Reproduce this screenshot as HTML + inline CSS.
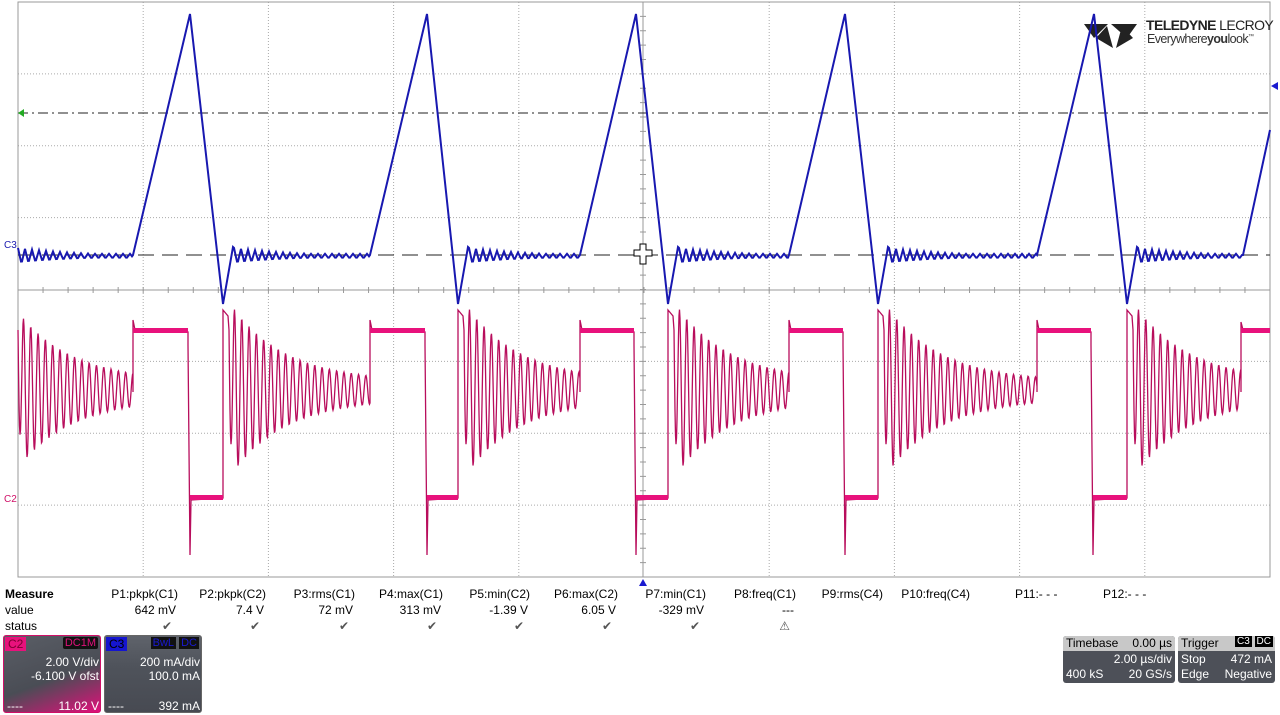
<!DOCTYPE html>
<html><head><meta charset="utf-8"><style>
body{margin:0;width:1280px;height:715px;background:#fff;overflow:hidden;font-family:"Liberation Sans",sans-serif;position:relative}
.t{position:absolute;font-size:12px;color:#000;white-space:nowrap}
.r{text-align:right}
.box{position:absolute;border-radius:3px;color:#fff;font-size:12px}
</style></head><body>
<svg id="s" width="1280" height="715" style="position:absolute;left:0;top:0">
<g id="grid"></g>
<g id="wave"></g>
</svg>
<div class="t" style="left:5px;top:587px;font-weight:bold">Measure</div>
<div class="t" style="left:5px;top:603px">value</div>
<div class="t" style="left:5px;top:619px">status</div>
<div id="meas"></div>
<div class="box" style="left:3px;top:635px;width:98px;height:78px;background:linear-gradient(160deg,#5a5e66 0%,#4a4d55 55%,#e0107a 100%);border:1px solid #d01068;box-sizing:border-box">
 <div style="position:absolute;left:1px;top:1px;background:#e8127c;color:#7a0030;padding:0 3px;font-size:12px">C2</div>
 <div style="position:absolute;right:2px;top:1px;background:#111;color:#e0107a;padding:0 2px;border-radius:2px;font-size:11px">DC1M</div>
 <div style="position:absolute;right:1px;top:19px">2.00 V/div</div>
 <div style="position:absolute;right:1px;top:33px">-6.100 V ofst</div>
 <div style="position:absolute;left:3px;top:63px">----</div>
 <div style="position:absolute;right:1px;top:63px">11.02 V</div>
</div>
<div class="box" style="left:104px;top:635px;width:98px;height:78px;background:linear-gradient(180deg,#5f636b 0%,#4f535b 40%,#474a52 100%);border:1px solid #666;box-sizing:border-box">
 <div style="position:absolute;left:1px;top:1px;background:#1515d0;color:#000;padding:0 3px;font-size:12px">C3</div>
 <div style="position:absolute;right:2px;top:1px;font-size:11px"><span style="background:#111;color:#1a1ad0;padding:0 2px">BwL</span> <span style="background:#111;color:#1a1ad0;padding:0 2px">DC</span></div>
 <div style="position:absolute;right:1px;top:19px">200 mA/div</div>
 <div style="position:absolute;right:1px;top:33px">100.0 mA</div>
 <div style="position:absolute;left:3px;top:63px">----</div>
 <div style="position:absolute;right:1px;top:63px">392 mA</div>
</div>
<div class="box" style="left:1063px;top:636px;width:112px;height:47px;background:#4d5058">
 <div style="position:absolute;left:0;top:0;width:112px;height:15px;background:#c8c8c8;color:#000;border-radius:3px 3px 0 0"><span style="position:absolute;left:3px;top:0">Timebase</span><span style="position:absolute;right:3px;top:0">0.00 µs</span></div>
 <div style="position:absolute;right:3px;top:16px">2.00 µs/div</div>
 <div style="position:absolute;left:3px;top:31px">400 kS</div>
 <div style="position:absolute;right:3px;top:31px">20 GS/s</div>
</div>
<div class="box" style="left:1178px;top:636px;width:97px;height:47px;background:#4d5058">
 <div style="position:absolute;left:0;top:0;width:97px;height:15px;background:#c8c8c8;color:#000;border-radius:3px 3px 0 0"><span style="position:absolute;left:3px;top:0">Trigger</span><span style="position:absolute;right:2px;top:0;font-size:10px"><span style="background:#000;color:#fff;padding:0 2px">C3</span> <span style="background:#000;color:#fff;padding:0 2px">DC</span></span></div>
 <div style="position:absolute;left:3px;top:16px">Stop</div>
 <div style="position:absolute;right:3px;top:16px">472 mA</div>
 <div style="position:absolute;left:3px;top:31px">Edge</div>
 <div style="position:absolute;right:3px;top:31px">Negative</div>
</div>
<div class="t" style="left:1146px;top:17px;font-size:14px;font-weight:bold;color:#222;letter-spacing:-0.6px">TELEDYNE <span style="font-weight:normal">LECROY</span></div>
<div class="t" style="left:1147px;top:32px;font-size:12.5px;color:#333;letter-spacing:-0.6px">Everywhere<b>you</b>look<sup style="font-size:6px">™</sup></div>
<div class="t" style="left:4px;top:240px;color:#1a1ab0;font-size:10px">C3</div>
<div class="t" style="left:4px;top:494px;color:#d01068;font-size:10px">C2</div>
<script>
var NS="http://www.w3.org/2000/svg";
function el(p,t,a){var e=document.createElementNS(NS,t);for(var k in a)e.setAttribute(k,a[k]);document.getElementById(p).appendChild(e);return e}
var L=18,R=1270,T=2,B=577,cx=643,cy=290,dx=(R-L)/10,dy=(B-T)/8;
for(var i=1;i<10;i++){var x=L+i*dx;if(Math.abs(x-cx)<3)continue;el("grid","line",{x1:x,y1:T,x2:x,y2:B,stroke:"#aaa","stroke-dasharray":"1,2","stroke-width":1})}
for(var j=1;j<8;j++){var y=T+j*dy;if(Math.abs(y-cy)<3)continue;el("grid","line",{x1:L,y1:y,x2:R,y2:y,stroke:"#aaa","stroke-dasharray":"1,2","stroke-width":1})}
el("grid","rect",{x:L,y:T,width:R-L,height:B-T,fill:"none",stroke:"#999"});
el("grid","line",{x1:L,y1:cy,x2:R,y2:cy,stroke:"#999"});
el("grid","line",{x1:cx,y1:T,x2:cx,y2:B,stroke:"#999"});
for(var x=L;x<=R;x+=dx/5)el("grid","line",{x1:x,y1:cy-3,x2:x,y2:cy+3,stroke:"#999"});
for(var y=T;y<=B;y+=dy/5)el("grid","line",{x1:cx-3,y1:y,x2:cx+3,y2:y,stroke:"#999"});
el("grid","line",{x1:L,y1:113,x2:R,y2:113,stroke:"#222","stroke-dasharray":"10,4,2,4"});
el("grid","line",{x1:L,y1:255,x2:R,y2:255,stroke:"#222","stroke-dasharray":"16,8"});
el("grid","path",{d:"M18,113 l6,-4 v8 z",fill:"#2a2"});
el("grid","path",{d:"M1271,86 l7,-4 v8 z",fill:"#1a1ad0"});
el("grid","path",{d:"M643,579 l-4,7 h8 z",fill:"#1a1ad0"});
el("grid","path",{d:"M1084,24 h24 l-14,14 z M1111,24 h26 l-10,14 z M1096,38 l11,-12 l6,22 z M1116,48 l6,-22 l11,12 z",fill:"#222"});
el("grid","path",{d:"M640,244 h6 v6 h6 v6 h-6 v8 h-6 v-8 h-6 v-6 h6 z",fill:"#fff",stroke:"#000"});
var C=[[133,190,223,233],[370,427,458,468],[580,636,668,678],[789,845,878,888],[1037,1094,1127,1137]];
var pts=[],base=255;
function ripple(a,b){for(var x=a;x<b;x+=1){var t=(x-a);var amp=Math.max(2.5,9*Math.exp(-t/60));var ph=(t%7)/7;var v=ph<0.5?ph*4-1:3-ph*4;pts.push([x,base+amp*v*0.9+1])}}
ripple(18,C[0][0]);
for(var k=0;k<C.length;k++){var c=C[k];pts.push([c[0],base]);pts.push([c[1],14]);pts.push([c[2],304]);pts.push([c[3],247]);var nx=k+1<C.length?C[k+1][0]:1243;ripple(c[3]+1,nx)}
pts.push([1243,base]);pts.push([1270,130]);
el("wave","path",{d:"M"+pts.map(p=>p[0].toFixed(1)+","+p[1].toFixed(1)).join("L"),fill:"none",stroke:"#1818b0","stroke-width":2});
var pp=[];
function ring(a,b,a0){for(var x=a;x<=b;x+=0.5){var t=x-a;var amp=a0*Math.exp(-t/55)+8;pp.push([x,390+amp*Math.sin(t*2*Math.PI/7.3)+ (t<4?-60*(1-t/4):0)])}}
ring(18,133,70);
var HI=[[133,188],[370,425],[580,634],[789,843],[1037,1091]];
for(var k=0;k<5;k++){var h=HI[k],c=C[k];pp.push([h[0],392]);pp.push([h[0],320]);pp.push([h[0]+2,330]);pp.push([h[1],332]);pp.push([h[1],345]);pp.push([h[1]+2,555]);pp.push([h[1]+3,500]);pp.push([c[2],498]);pp.push([c[2],310]);pp.push([c[2]+5,316]);var nx=k+1<5?HI[k+1][0]:1241;ring(c[2]+6,nx,80)}
pp.push([1241,392]);pp.push([1241,322]);pp.push([1243,330]);pp.push([1270,330]);
el("wave","path",{d:"M"+pp.map(p=>p[0].toFixed(1)+","+p[1].toFixed(1)).join("L"),fill:"none",stroke:"#b80d5c","stroke-width":1.3});
for(var k=0;k<5;k++){var h=HI[k],c=C[k];el("wave","rect",{x:h[0],y:328,width:h[1]-h[0],height:5,fill:"#e8127c"});el("wave","rect",{x:h[1]+2,y:495,width:c[2]-h[1]-2,height:5,fill:"#e8127c"})}
el("wave","rect",{x:1241,y:328,width:29,height:5,fill:"#e8127c"});
var M=[["P1:pkpk(C1)","642 mV","✔",178],["P2:pkpk(C2)","7.4 V","✔",266],["P3:rms(C1)","72 mV","✔",355],["P4:max(C1)","313 mV","✔",443],["P5:min(C2)","-1.39 V","✔",530],["P6:max(C2)","6.05 V","✔",618],["P7:min(C1)","-329 mV","✔",706],["P8:freq(C1)","---","⚠",796],["P9:rms(C4)","","",883],["P10:freq(C4)","","",970]];
var h="";M.forEach(m=>{h+='<div class="t r" style="left:'+(m[3]-100)+'px;width:100px;top:587px">'+m[0]+'</div><div class="t r" style="left:'+(m[3]-100)+'px;width:98px;top:603px">'+m[1]+'</div><div class="t r" style="left:'+(m[3]-100)+'px;width:94px;top:619px;color:#555">'+m[2]+'</div>'});
h+='<div class="t" style="left:1015px;top:587px">P11:- - -</div><div class="t" style="left:1103px;top:587px">P12:- - -</div>';
document.getElementById("meas").innerHTML=h;
</script>
</body></html>
